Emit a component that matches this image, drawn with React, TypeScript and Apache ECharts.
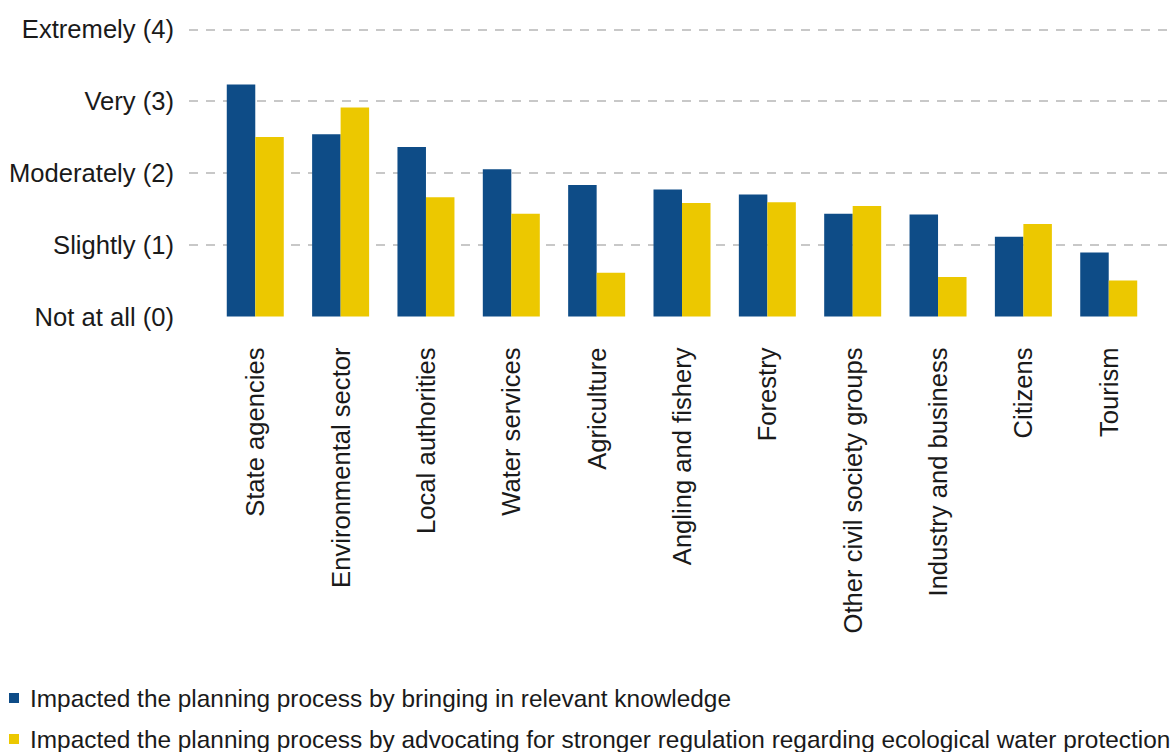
import React, { useEffect, useRef } from "react";
import * as echarts from "echarts";

const categories = [
  "State agencies",
  "Environmental sector",
  "Local authorities",
  "Water services",
  "Agriculture",
  "Angling and fishery",
  "Forestry",
  "Other civil society groups",
  "Industry and business",
  "Citizens",
  "Tourism",
];

const knowledge = [3.23, 2.54, 2.36, 2.05, 1.83, 1.77, 1.7, 1.43, 1.42, 1.11, 0.89];
const advocating = [2.5, 2.91, 1.66, 1.43, 0.61, 1.58, 1.59, 1.54, 0.55, 1.29, 0.5];

const yTickLabels = ["Not at all (0)", "Slightly (1)", "Moderately (2)", "Very (3)", "Extremely (4)"];

const seriesNames = [
  "Impacted the planning process by bringing in relevant knowledge",
  "Impacted the planning process by advocating for stronger regulation regarding ecological water protection",
];

const BLUE = "#0E4C87";
const YELLOW = "#ECC800";
const TEXT = "#1a1a1a";
const FONT = "'Liberation Sans', Arial, sans-serif";

export default function App() {
  const ref = useRef<HTMLDivElement>(null);
  useEffect(() => {
    if (!ref.current) return;
    const chart = echarts.init(ref.current, null, { renderer: "svg" });
    const top = 29.3;
    const bottom = 752 - 316.5;
    const legendBase = {
      orient: "horizontal",
      left: 4,
      itemWidth: 10,
      itemHeight: 10,
      icon: "rect",
      textStyle: {
        fontSize: 24.4,
        color: TEXT,
        fontFamily: FONT,
        padding: [0, 0, 0, 6],
      },
    };
    chart.setOption({
      animation: false,
      backgroundColor: "#ffffff",
      textStyle: { fontFamily: FONT },
      grid: [
        { left: 189, right: 0, top, bottom },
        { left: 212.6, right: 21.6, top, bottom },
      ],
      xAxis: [
        { gridIndex: 0, type: "value", show: false, min: 0, max: 1 },
        {
          gridIndex: 1,
          type: "category",
          data: categories,
          axisLine: { show: false },
          axisTick: { show: false },
          axisLabel: {
            rotate: 90,
            interval: 0,
            margin: 31,
            fontSize: 25.6,
            color: TEXT,
            fontFamily: FONT,
          },
        },
      ],
      yAxis: [
        {
          gridIndex: 0,
          type: "value",
          min: 0,
          max: 4,
          interval: 1,
          axisLine: { show: false },
          axisTick: { show: false },
          axisLabel: {
            margin: 15,
            fontSize: 25.6,
            color: TEXT,
            fontFamily: FONT,
            formatter: (v: number) => yTickLabels[Math.round(v)],
          },
          splitLine: {
            show: true,
            showMinLine: false,
            lineStyle: { color: "#c8c8c8", width: 2, type: [9, 8] },
          },
        },
        {
          gridIndex: 1,
          type: "value",
          min: 0,
          max: 4,
          interval: 1,
          show: false,
          splitLine: { show: false },
        },
      ],
      legend: [
        { ...legendBase, top: 681, data: [seriesNames[0]] },
        { ...legendBase, top: 722, data: [seriesNames[1]] },
      ],
      series: [
        {
          name: seriesNames[0],
          type: "bar",
          xAxisIndex: 1,
          yAxisIndex: 1,
          data: knowledge,
          barWidth: 28.5,
          barGap: "0%",
          itemStyle: { color: BLUE },
        },
        {
          name: seriesNames[1],
          type: "bar",
          xAxisIndex: 1,
          yAxisIndex: 1,
          data: advocating,
          barWidth: 28.5,
          barGap: "0%",
          itemStyle: { color: YELLOW },
        },
      ],
    });
    return () => chart.dispose();
  }, []);
  return <div ref={ref} style={{ width: 1173, height: 752, position: "absolute", left: 0, top: 0 }} />;
}
